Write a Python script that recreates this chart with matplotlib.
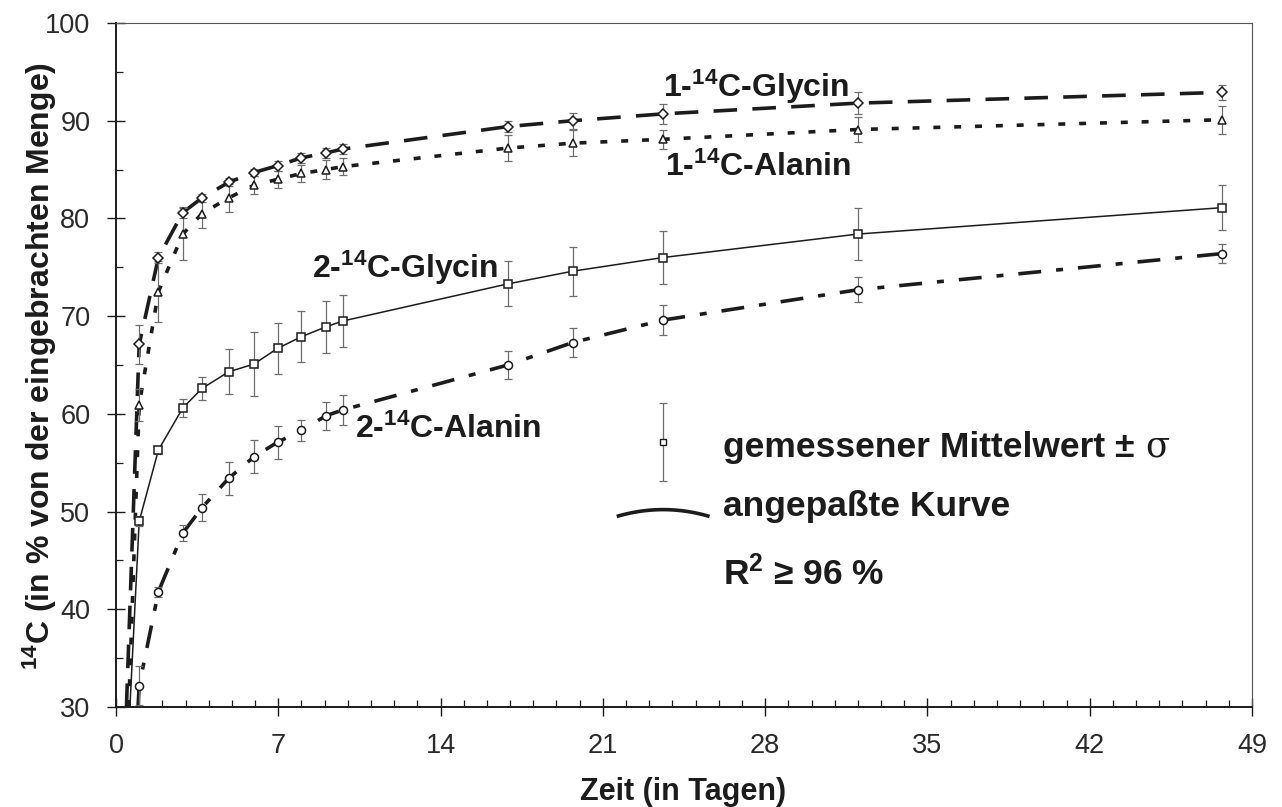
import numpy as np
import matplotlib
matplotlib.use("Agg")
import matplotlib.pyplot as plt
from matplotlib.ticker import MultipleLocator

# sampling days
days = [1.0, 1.83, 2.88, 3.71, 4.86, 5.95, 6.97, 8.0, 9.05, 9.78, 16.9, 19.7, 23.6, 32.0, 47.7]

# measured means and sigma per tracer
glycin1 = [67.1, 76.0, 80.6, 82.1, 83.7, 84.7, 85.4, 86.2, 86.7, 87.1, 89.4, 90.0, 90.7, 91.8, 92.9]
glycin1_err = [2.0, 0.6, 0.6, 0.4, 0.4, 0.4, 0.5, 0.5, 0.5, 0.5, 0.6, 0.8, 1.0, 1.1, 0.8]
alanin1 = [60.9, 72.5, 78.4, 80.5, 82.1, 83.4, 84.0, 84.6, 85.0, 85.3, 87.2, 87.7, 88.1, 89.1, 90.1]
alanin1_err = [1.6, 3.1, 2.7, 1.5, 1.4, 0.9, 0.9, 0.9, 1.0, 0.9, 1.3, 1.3, 1.0, 1.3, 1.45]
glycin2 = [49.0, 56.3, 60.6, 62.6, 64.3, 65.1, 66.7, 67.9, 68.9, 69.5, 73.3, 74.6, 76.0, 78.4, 81.1]
glycin2_err = [0.5, 0.4, 0.9, 1.15, 2.3, 3.3, 2.6, 2.6, 2.65, 2.65, 2.3, 2.5, 2.75, 2.65, 2.3]
alanin2 = [32.2, 41.8, 47.8, 50.4, 53.4, 55.6, 57.1, 58.3, 59.8, 60.4, 65.0, 67.3, 69.6, 72.7, 76.4]
alanin2_err = [2.0, 0.5, 0.8, 1.4, 1.7, 1.7, 1.7, 1.1, 1.45, 1.5, 1.4, 1.5, 1.5, 1.3, 1.0]

# day where each fitted curve leaves the bottom of the chart (y = 30)
curve_start = [0.45, 0.55, 0.60, 0.95]

labels = ["1-$^{14}$C-Glycin", "1-$^{14}$C-Alanin", "2-$^{14}$C-Glycin", "2-$^{14}$C-Alanin"]

plt.rcParams["font.family"] = ["Liberation Sans", "DejaVu Sans"]
plt.rcParams["mathtext.default"] = "regular"
plt.rcParams["lines.scale_dashes"] = False

INK = "#1c1c1c"

fig = plt.figure(figsize=(12.82, 8.07), dpi=100)
ax = fig.add_axes([116/1282, 1 - 707/807, (1252 - 116)/1282, (707 - 23)/807])

# marker, dash pattern (pt), line width, marker size, label position (x, y)
styles = [
	("D", (0, (17, 11)), 2.6, 5.3, (23.6, 92.45)),
	("^", (0, (5, 10)), 2.6, 6.3, (23.7, 84.3)),
	("s", "-", 1.1, 6.3, (8.45, 73.9)),
	("o", (0, (16.5, 10.8, 5, 10.8)), 2.6, 5.8, (10.3, 57.5)),
]
series = [(glycin1, glycin1_err), (alanin1, alanin1_err), (glycin2, glycin2_err), (alanin2, alanin2_err)]

for (vals, err), start, label, (mk, ls, lw, ms, lpos) in zip(series, curve_start, labels, styles):
	# fitted curve
	ax.plot([start] + days, [30] + vals, color=INK, lw=lw, linestyle=ls,
		dash_capstyle="butt", solid_capstyle="butt", zorder=2)
	# error bars
	ax.errorbar(days, vals, yerr=err, fmt="none", ecolor="#6e6e6e", elinewidth=0.9,
		capsize=3.2, capthick=0.9, zorder=3)
	# measured points
	ax.plot(days, vals, linestyle="none", marker=mk, ms=ms, mfc="white", mec=INK, mew=1.1, zorder=4)
	ax.text(lpos[0], lpos[1], label, fontsize=23, fontweight="bold", color=INK, va="baseline", ha="left")

# legend drawn inside the plot
ax.errorbar([23.6], [57.1], yerr=[4.0], fmt="none", ecolor="#6e6e6e", elinewidth=0.9,
	capsize=3.2, capthick=0.9, zorder=3)
ax.plot([23.6], [57.1], linestyle="none", marker="s", ms=5, mfc="white", mec=INK, mew=1.0, zorder=4)
t1 = ax.text(26.2, 55.6, "gemessener Mittelwert ± ", fontsize=25.5, fontweight="bold", color=INK, va="baseline")
arc_x = np.linspace(21.6, 25.6, 40)
ax.plot(arc_x, 49.5 + 0.7*(1 - ((arc_x - 23.6)/2.0)**2), color=INK, lw=2.6, solid_capstyle="butt")
ax.text(26.2, 49.5, "angepaßte Kurve", fontsize=25.5, fontweight="bold", color=INK, va="baseline")
ax.text(26.2, 42.5, "R$^2$ ≥ 96 %", fontsize=25.5, fontweight="bold", color=INK, va="baseline")

ax.set_xlim(0, 49)
ax.set_ylim(30, 100)
ax.xaxis.set_major_locator(MultipleLocator(7))
ax.xaxis.set_minor_locator(MultipleLocator(1))
ax.yaxis.set_major_locator(MultipleLocator(10))
ax.yaxis.set_minor_locator(MultipleLocator(5))
ax.tick_params(which="major", direction="inout", length=13, width=1.0, pad=12,
	labelsize=19.5, color=INK, labelcolor="#2a2a2a")
ax.tick_params(which="minor", direction="in", length=5, width=0.9, color=INK)

for side in ["left", "bottom"]:
	ax.spines[side].set_linewidth(1.4)
	ax.spines[side].set_color(INK)
for side in ["top", "right"]:
	ax.spines[side].set_linewidth(0.8)
	ax.spines[side].set_color("#555555")

fig.text(40/1282, 1 - 366/807, "$^{14}$C (in % von der eingebrachten Menge)", rotation=90,
	fontsize=23, fontweight="bold", color=INK, ha="center", va="center")
fig.text(683/1282, 1 - 792/807, "Zeit (in Tagen)", fontsize=22, fontweight="bold",
	color=INK, ha="center", va="center")

# sigma in a lighter serif face right after the bold legend text
fig.canvas.draw()
bb = t1.get_window_extent()
sx = ax.transData.inverted().transform((bb.x1, bb.y0))[0]
ax.text(sx, 55.6, "σ", fontsize=25.5, family=["DejaVu Serif"], color=INK, va="baseline")

fig.savefig("out.png", dpi=100)
